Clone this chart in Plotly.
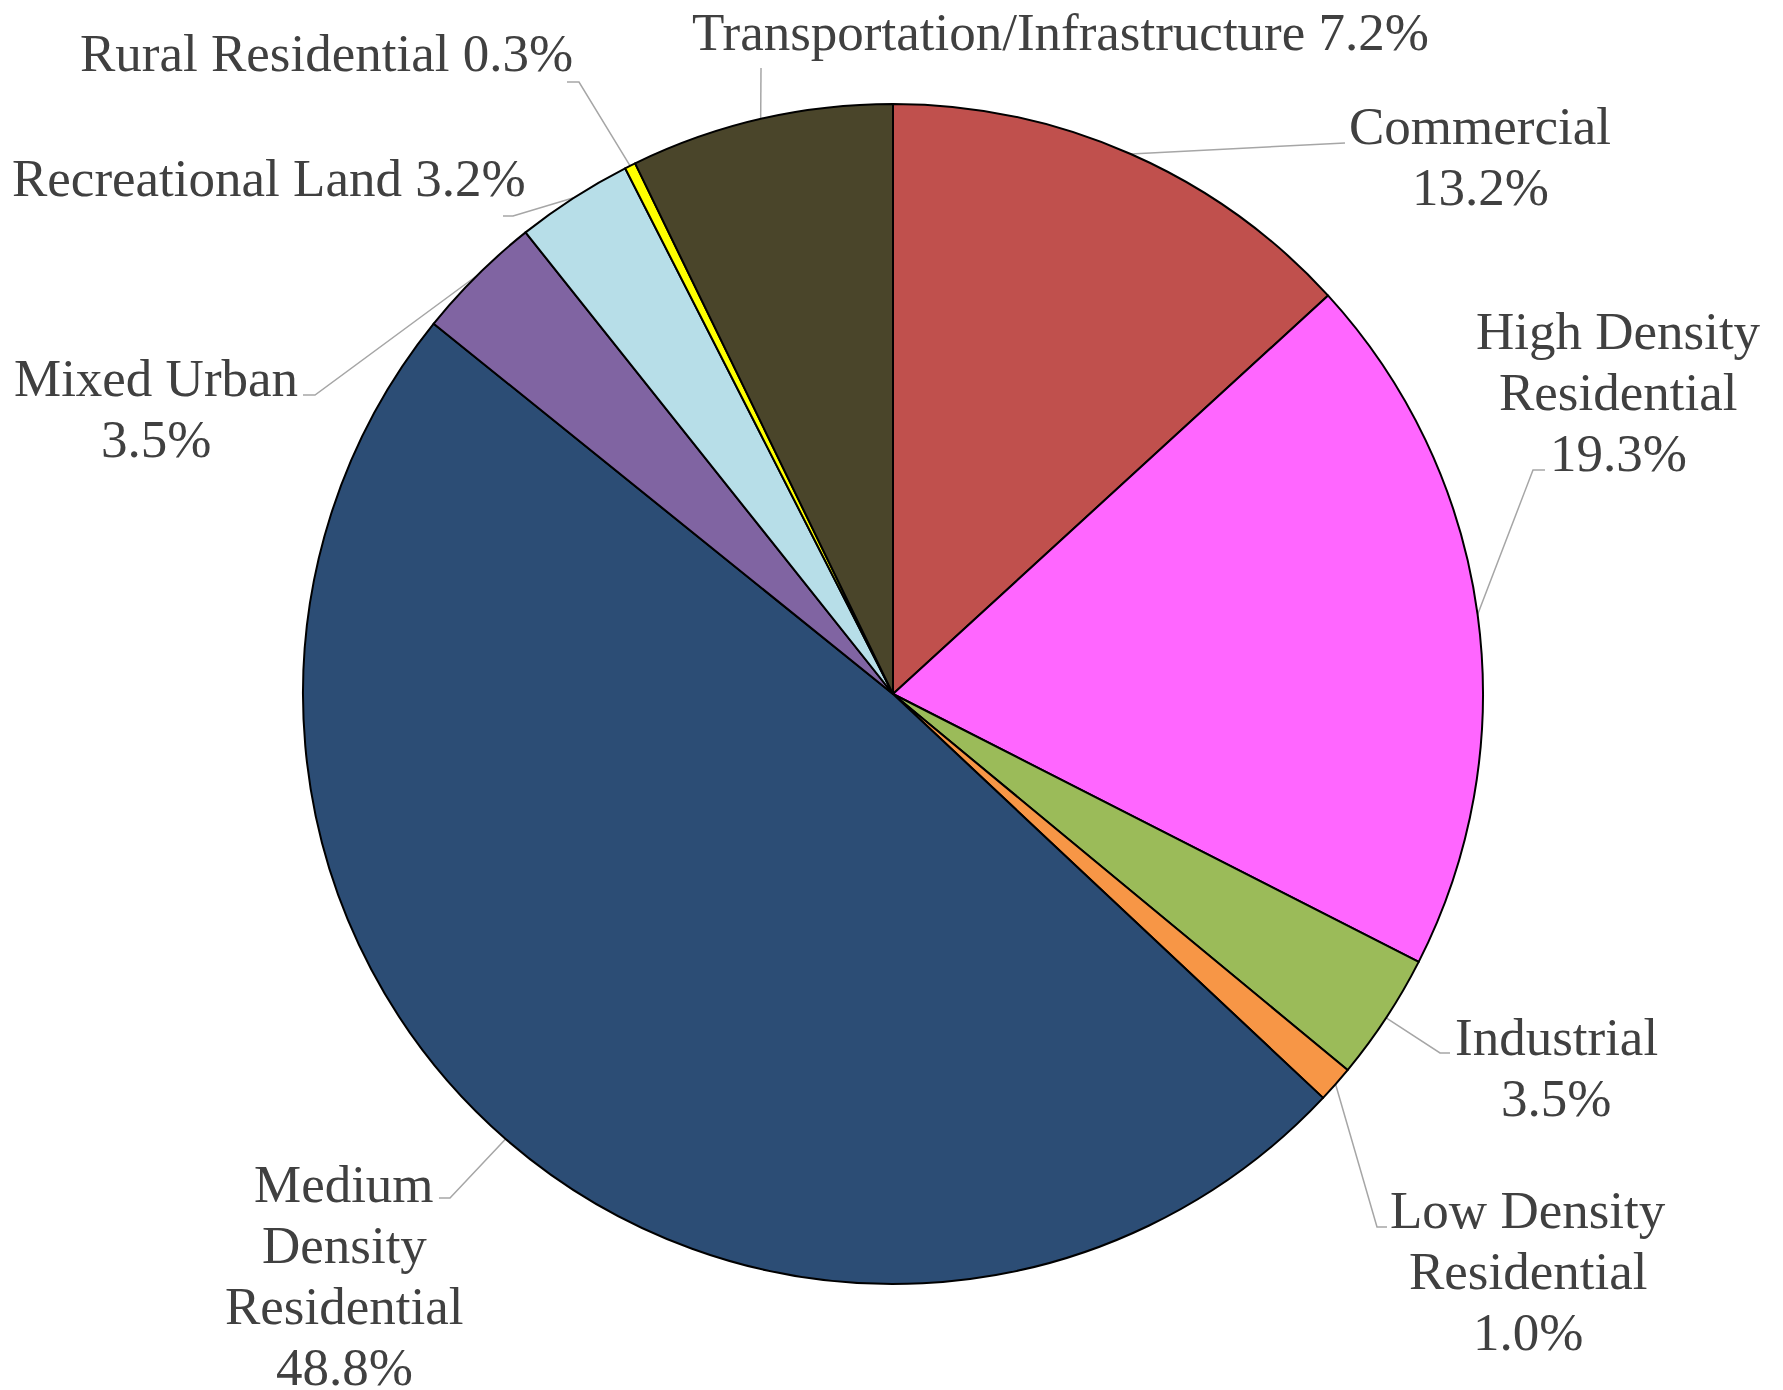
import math
import plotly.graph_objects as go

# ---------------- data ----------------
categories = [
    "Commercial",
    "High Density Residential",
    "Industrial",
    "Low Density Residential",
    "Medium Density Residential",
    "Mixed Urban",
    "Recreational Land",
    "Rural Residential",
    "Transportation/Infrastructure",
]
shares = [13.2, 19.3, 3.5, 1.0, 48.8, 3.5, 3.2, 0.3, 7.2]
colors = ["#C0504D", "#FF66FF", "#9BBB59", "#F79646", "#2C4D75",
          "#8064A2", "#B7DEE8", "#FFFF00", "#4A452A"]

# label text lines ("{pct}" is replaced by the value)
label_lines = [
    ["Commercial", "{pct}"],
    ["High Density", "Residential", "{pct}"],
    ["Industrial", "{pct}"],
    ["Low Density", "Residential", "{pct}"],
    ["Medium", "Density", "Residential", "{pct}"],
    ["Mixed Urban", "{pct}"],
    ["Recreational Land {pct}"],
    ["Rural Residential {pct}"],
    ["Transportation/Infrastructure {pct}"],
]

# ---------------- layout (pixels) ----------------
W, H = 1783, 1390
CX, CY, R = 893, 694, 590
FONT = "Liberation Serif"
FS = 53
LINE_H = 61
TXT = "#404040"
LEADER = "#A6A6A6"

# label anchor: centre x, y of first line centre
label_pos = [
    (1480, 126),
    (1618, 331),
    (1556, 1037),
    (1528, 1210),
    (344, 1184),
    (156, 378),
    (269, 178),
    (326, 53),
    (1060, 32),
]
# leader line elbow / end points
leader_pts = [
    [(1335, 143), (1345, 143)],
    [(1533, 470), (1545, 470)],
    [(1440, 1053), (1450, 1053)],
    [(1377, 1227), (1387, 1227)],
    [(450, 1198), (439, 1198)],
    [(315, 395), (303, 395)],
    [(513, 216), (503, 216)],
    [(579, 82), (567, 82)],
    [(761, 68)],
]

fig = go.Figure()

dom_x = [(CX - R) / W, (CX + R) / W]
dom_y = [1 - (CY + R) / H, 1 - (CY - R) / H]

fig.add_trace(go.Pie(
    labels=categories,
    values=shares,
    sort=False,
    direction="clockwise",
    rotation=0,
    marker=dict(colors=colors, line=dict(color="black", width=2)),
    textinfo="none",
    hoverinfo="label+percent",
    showlegend=False,
    domain=dict(x=dom_x, y=dom_y),
))

total = sum(shares)
cum = 0.0
annotations = []
for i, v in enumerate(shares):
    mid = (cum + v / 2) / total * 2 * math.pi
    cum += v
    sx = CX + R * math.sin(mid)
    sy = CY - R * math.cos(mid)
    pts = [(sx, sy)] + leader_pts[i]
    fig.add_trace(go.Scatter(
        x=[p[0] for p in pts], y=[p[1] for p in pts],
        mode="lines", line=dict(color=LEADER, width=1.5),
        hoverinfo="skip", showlegend=False,
        xaxis="x", yaxis="y",
    ))
    lx, ly = label_pos[i]
    for k, ln in enumerate(label_lines[i]):
        annotations.append(dict(
            x=lx, y=ly + k * LINE_H, xref="x", yref="y",
            text=ln.replace("{pct}", f"{v:.1f}%"),
            showarrow=False, xanchor="center", yanchor="middle",
            font=dict(family=FONT, size=FS, color=TXT),
        ))

fig.update_layout(
    width=W, height=H,
    margin=dict(l=0, r=0, t=0, b=0),
    paper_bgcolor="white", plot_bgcolor="rgba(0,0,0,0)",
    xaxis=dict(range=[0, W], visible=False, fixedrange=True, domain=[0, 1]),
    yaxis=dict(range=[H, 0], visible=False, fixedrange=True, domain=[0, 1]),
    annotations=annotations,
    showlegend=False,
)

fig.write_html(
    "out.html",
    config={"displayModeBar": False},
    post_script="document.body.style.margin='0';document.body.style.overflow='hidden';",
)
